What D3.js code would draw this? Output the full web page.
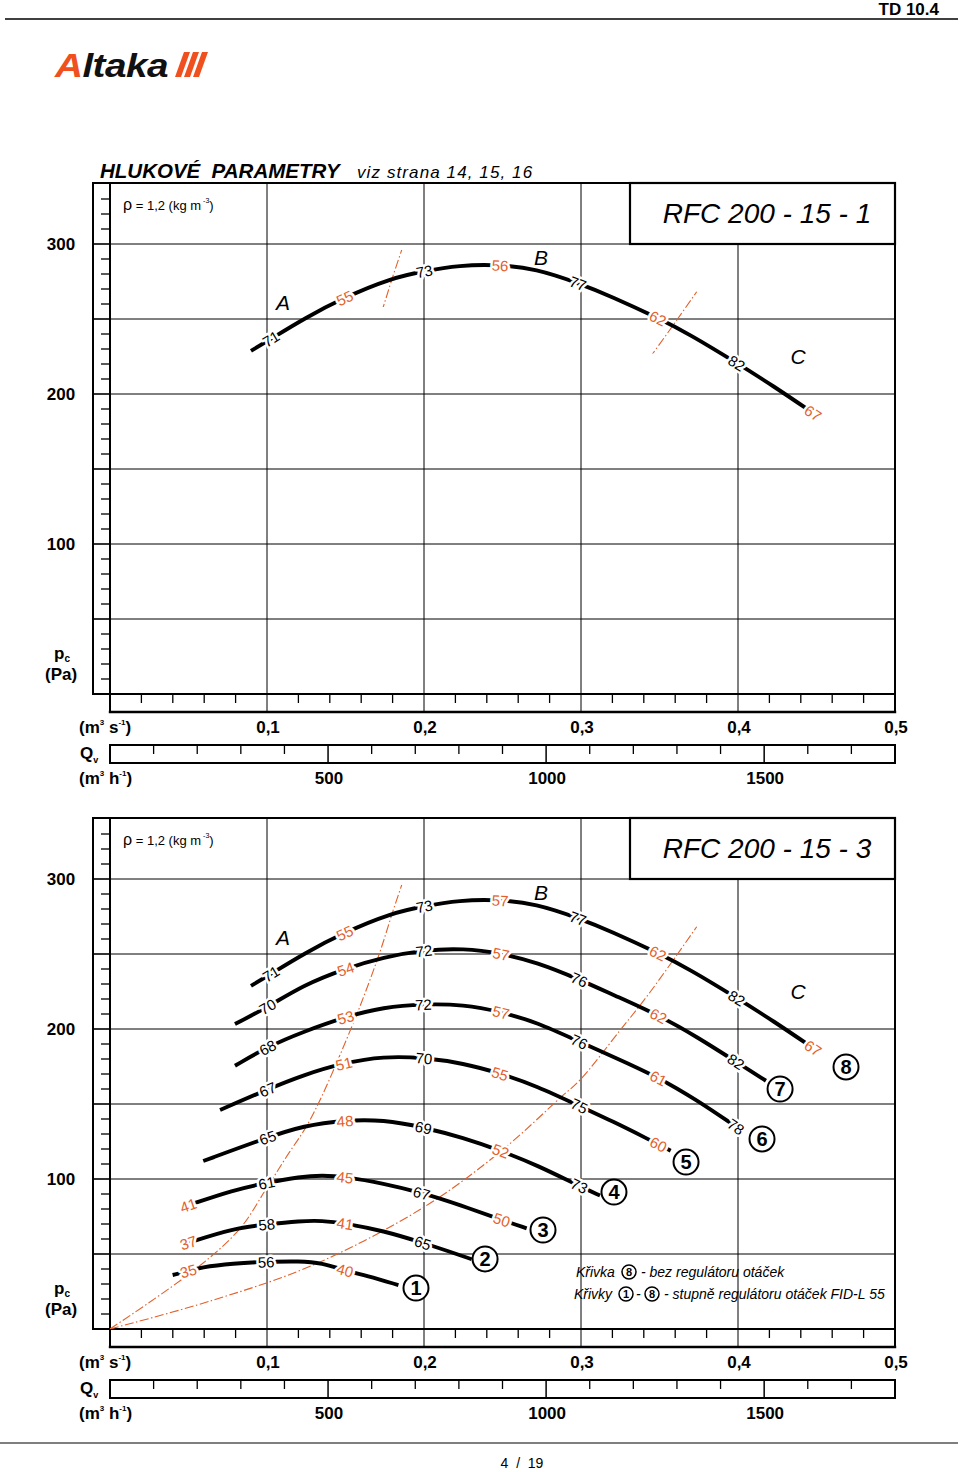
<!DOCTYPE html>
<html><head><meta charset="utf-8">
<script src="https://cdn.jsdelivr.net/npm/d3@7"></script>
<style>
body{margin:0;background:#fff}
svg{display:block;font-family:"Liberation Sans",Arial,sans-serif}
.axl{font-weight:bold;font-size:17px;fill:#000}
</style>
</head><body>
<svg id="c" width="960" height="1472"></svg>
<script>
// ---------------- DATA ----------------
const qTicks = [0.1, 0.2, 0.3, 0.4, 0.5];
const qTickLabels = ["0,1", "0,2", "0,3", "0,4", "0,5"];
const hTicks = [500, 1000, 1500];
const hTickLabels = ["500", "1000", "1500"];
const pTicks = [100, 200, 300];
const pTickLabels = ["100", "200", "300"];

// fan curves: [Qv m3/s, pc Pa]
const curve8 = [[0.0898,228.7],[0.1025,236.7],[0.1239,250.5],[0.1495,264.5],[0.1787,277.1],[0.2002,282],[0.2225,285.8],[0.2469,286.3],[0.2713,283.5],[0.2981,274],[0.3197,264.9],[0.3490,250.7],[0.3688,240],[0.3992,220.7],[0.4223,205.5],[0.4478,187.3]];
const curve7 = [[0.0796,203.3],[0.1004,214.5],[0.1231,229.3],[0.1501,240.4],[0.1741,247.8],[0.2,252.7],[0.2251,253.8],[0.249,250.5],[0.2718,244.5],[0.2989,233.1],[0.3206,222.7],[0.3493,209.3],[0.3737,194.9],[0.3987,178.2],[0.4178,165.5]];
const curve6 = [[0.0796,175.5],[0.1004,188.2],[0.1231,198.2],[0.1501,208.2],[0.1741,214.5],[0.1996,216.7],[0.2251,216.3],[0.249,211.5],[0.2718,204.5],[0.2989,191.5],[0.3206,181.5],[0.3493,167.8],[0.3737,152.7],[0.3987,134.9]];
const curve5 = [[0.0701,146],[0.1004,159.8],[0.1231,169.3],[0.149,177.5],[0.1741,181.8],[0.2,181],[0.2251,177.1],[0.2484,170.5],[0.2718,162],[0.2989,148.7],[0.3206,138.2],[0.3418,127.1],[0.3571,118.9]];
const curve4 = [[0.0594,112],[0.1004,127.8],[0.1231,135.5],[0.1497,139.3],[0.1741,139.5],[0.1996,134.5],[0.2251,127.5],[0.2488,118.9],[0.2718,109.3],[0.2989,95.3],[0.3121,89]];
const curve3 = [[0.0499,82.5],[0.0786,92.7],[0.0998,97.5],[0.121,101.5],[0.135,102.5],[0.1497,101.5],[0.1741,97.1],[0.1985,90.9],[0.2229,82.7],[0.2495,72.7],[0.2654,67.1]];
const curve2 = [[0.0499,57.5],[0.0786,67.1],[0.0998,69.8],[0.121,72],[0.135,72.3],[0.1497,70.5],[0.1741,65.5],[0.1992,57.5],[0.2166,51.5],[0.2304,46.5]];
const curve1 = [[0.0399,36],[0.0499,38.5],[0.0573,41.1],[0.0786,43.8],[0.0994,44.8],[0.121,45.3],[0.135,44],[0.1497,39],[0.1635,35.5],[0.1837,29.3]];

// noise labels on curves: [Qv, text, colour k=black o=orange]
const labels8top = [[0.1025,"71","k"],[0.1495,"55","o"],[0.2002,"73","k"],[0.2485,"56","o"],[0.2981,"77","k"],[0.349,"62","o"],[0.3992,"82","k"],[0.4478,"67","o"]];
const labels8 = [[0.1025,"71","k"],[0.1495,"55","o"],[0.2002,"73","k"],[0.2485,"57","o"],[0.2981,"77","k"],[0.349,"62","o"],[0.3992,"82","k"],[0.4478,"67","o"]];
const labels7 = [[0.1004,"70","k"],[0.1501,"54","o"],[0.2,"72","k"],[0.249,"57","o"],[0.2989,"76","k"],[0.3493,"62","o"],[0.3987,"82","k"]];
const labels6 = [[0.1004,"68","k"],[0.1501,"53","o"],[0.1996,"72","k"],[0.249,"57","o"],[0.2989,"76","k"],[0.3493,"61","o"],[0.3987,"78","k"]];
const labels5 = [[0.1004,"67","k"],[0.149,"51","o"],[0.2,"70","k"],[0.2484,"55","o"],[0.2989,"75","k"],[0.3493,"60","o"]];
const labels4 = [[0.1004,"65","k"],[0.1497,"48","o"],[0.1996,"69","k"],[0.2488,"52","o"],[0.2989,"73","k"]];
const labels3 = [[0.0499,"41","o"],[0.0998,"61","k"],[0.1497,"45","o"],[0.1985,"67","k"],[0.2495,"50","o"]];
const labels2 = [[0.0499,"37","o"],[0.0998,"58","k"],[0.1497,"41","o"],[0.1992,"65","k"]];
const labels1 = [[0.0499,"35","o"],[0.0994,"56","k"],[0.1497,"40","o"]];

// circled curve numbers [n, Qv, pc]
const curveMarks = [[1,0.1949,27.3],[2,0.2389,46.7],[3,0.2758,66],[4,0.3210,91.3],[5,0.3669,111.3],[6,0.4153,126.7],[7,0.4268,160],[8,0.4688,174.7]];

// area boundary lines (dash-dot) [Qv, pc]
const lineAB = [[0,0],[0.0552,40.5],[0.0828,67],[0.0998,94],[0.1125,115],[0.1274,139.3],[0.154,201.5],[0.1709,248.2],[0.1801,278.2],[0.1858,296]];
const lineBC = [[0,0],[0.065,19],[0.1295,42.7],[0.1996,81],[0.2484,118],[0.2877,155],[0.2994,166],[0.3248,199],[0.3418,221.5],[0.3588,246],[0.3737,268.2]];
const topSegAB = [258, 297];
const topSegBC = [227, 269];

// area letters [text, Qv, pc]
const areaLetters = [["A",0.1102,260.7],["B",0.2745,290.7],["C",0.4382,224.7]];

// ---------------- DRAWING ----------------
const ORANGE = "#e3602a";
const svg = d3.select("#c");
const x = d3.scaleLinear().domain([0, 0.5]).range([110, 895]);
const xh = d3.scaleLinear().domain([0, 1800]).range([110, 895]);

// header
svg.append("line").attr("x1",5).attr("x2",958).attr("y1",19).attr("y2",19).attr("stroke","#000").attr("stroke-width",1.5);
svg.append("text").attr("x",939).attr("y",15).attr("text-anchor","end").attr("font-weight","bold").attr("font-size",17).text("TD 10.4");
// logo
const logo = svg.append("g").attr("transform","translate(55,77)");
const lt = logo.append("text").attr("font-size",34).attr("font-weight",900).attr("font-style","italic").attr("letter-spacing",-0.5)
  .attr("transform","scale(1.14,0.98)");
lt.append("tspan").attr("fill","#f0501e").text("A");
lt.append("tspan").attr("fill","#111").text("ltaka");
[0,9,18].forEach(d=>{
  logo.append("path").attr("d",`M${120+d},0 L${126+d},0 L${135+d},-25 L${129+d},-25 Z`).attr("fill","#f0501e");
});
// footer
svg.append("line").attr("x1",0).attr("x2",958).attr("y1",1443).attr("y2",1443).attr("stroke","#000").attr("stroke-width",1.2);
svg.append("text").attr("x",522).attr("y",1468).attr("text-anchor","middle").attr("font-size",14).attr("xml:space","preserve").text("4  /  19");

// title
const tt = svg.append("text").attr("x",100).attr("y",178).attr("font-style","italic");
tt.append("tspan").attr("font-weight","bold").attr("font-size",20.5).text("HLUKOVÉ\u00a0 PARAMETRY");
tt.append("tspan").attr("x",357).attr("font-size",17).attr("letter-spacing",1.1).text("viz strana 14, 15, 16");

function unitText(g, xp, yp, u) {
  const t = g.append("text").attr("x",xp).attr("y",yp).attr("class","axl");
  t.append("tspan").text("(m");
  t.append("tspan").attr("font-size",8).attr("dy",-8).text("3");
  t.append("tspan").attr("dy",8).text(" "+u);
  t.append("tspan").attr("font-size",8).attr("dy",-8).text("-1");
  t.append("tspan").attr("dy",8).text(")");
}

function drawCurve(g, y, data, labels) {
  const line = d3.line().x(d=>x(d[0])).y(d=>y(d[1])).curve(d3.curveBasis);
  const path = g.append("path").attr("d",line(data)).attr("fill","none").attr("stroke","#000").attr("stroke-width",3.9);
  const node = path.node();
  const L = node.getTotalLength();
  labels.forEach(([q,t,c])=>{
    const tx = x(q);
    let lo=0, hi=L;
    for (let i=0;i<40;i++){ const m=(lo+hi)/2; if (node.getPointAtLength(m).x < tx) lo=m; else hi=m; }
    const P = node.getPointAtLength(lo);
    const a = node.getPointAtLength(Math.max(0,lo-4)), b = node.getPointAtLength(Math.min(L,lo+4));
    const ang = Math.atan2(b.y-a.y, b.x-a.x)*180/Math.PI;
    g.append("text").attr("transform",`translate(${P.x},${P.y}) rotate(${ang})`)
      .attr("text-anchor","middle").attr("dominant-baseline","central")
      .attr("font-size",15).attr("fill", c==="o"?ORANGE:"#000")
      .attr("stroke","#fff").attr("stroke-width",5).attr("paint-order","stroke").attr("stroke-linejoin","round")
      .text(t);
  });
}

let clipId = 0;
function dashLine(g, y, data, clipRange) {
  const line = d3.line().x(d=>x(d[0])).y(d=>y(d[1])).curve(d3.curveCatmullRom.alpha(0.5));
  const p = g.append("path").attr("d",line(data)).attr("fill","none").attr("stroke",ORANGE)
    .attr("stroke-width",1.1).attr("stroke-dasharray","9,2.5,1.5,2.5");
  if (clipRange) {
    const id = "clp"+(clipId++);
    g.append("clipPath").attr("id",id).append("rect")
      .attr("x",110).attr("width",785).attr("y",y(clipRange[1])).attr("height",y(clipRange[0])-y(clipRange[1]));
    p.attr("clip-path",`url(#${id})`);
  }
}

function chart(y0, title, full) {
  const y = d3.scaleLinear().domain([0,340]).range([y0+511, y0+1]);
  const yb = y(0);
  const g = svg.append("g");
  const k = "#000";
  // horizontal gridlines
  d3.range(50, 301, 50).forEach(v=>{
    g.append("line").attr("x1",x(0)).attr("x2",x(0.5)).attr("y1",y(v)).attr("y2",y(v)).attr("stroke",k).attr("stroke-width",1);
  });
  // vertical gridlines
  [0.1,0.2,0.3,0.4].forEach(v=>{
    g.append("line").attr("x1",x(v)).attr("x2",x(v)).attr("y1",y0).attr("y2",yb+18).attr("stroke",k).attr("stroke-width",1);
  });
  // y band
  d3.range(10, 340, 10).forEach(v=>{
    const major = v%50===0;
    g.append("line").attr("x1",major?93:101).attr("x2",110).attr("y1",y(v)).attr("y2",y(v)).attr("stroke",k).attr("stroke-width",major?1.6:1.3);
  });
  // x band (m3/s)
  d3.range(1, 25).map(i=>i*0.02).forEach(v=>{
    const major = Math.abs(v*10 - Math.round(v*10)) < 1e-6;
    if (!major) g.append("line").attr("x1",x(v)).attr("x2",x(v)).attr("y1",yb).attr("y2",yb+9).attr("stroke",k).attr("stroke-width",1.3);
  });
  // Qv band (m3/h)
  const qb = yb+51;
  g.append("rect").attr("x",x(0)).attr("y",qb).attr("width",x(0.5)-x(0)).attr("height",18).attr("fill","none").attr("stroke",k).attr("stroke-width",2);
  d3.range(100, 1800, 100).forEach(v=>{
    const major = v%500===0;
    g.append("line").attr("x1",xh(v)).attr("x2",xh(v)).attr("y1",qb).attr("y2",major?qb+18:qb+9).attr("stroke",k).attr("stroke-width",major?1.5:1.3);
  });
  // frame
  const fl = (x1,y1,x2,y2,w)=>g.append("line").attr("x1",x1).attr("y1",y1).attr("x2",x2).attr("y2",y2).attr("stroke",k).attr("stroke-width",w).attr("stroke-linecap","square");
  fl(93,y0,895,y0,2);
  fl(93,y0,93,yb,2);
  fl(110,y0,110,yb+18,2);
  fl(895,y0,895,yb+18,2);
  fl(93,yb,895,yb,2);
  fl(110,yb+18,895,yb+18,2.4);
  // tick labels
  pTicks.forEach((v,i)=>{
    g.append("text").attr("class","axl").attr("x",61).attr("y",y(v)+6).attr("text-anchor","middle").text(pTickLabels[i]);
  });
  qTicks.forEach((v,i)=>{
    g.append("text").attr("class","axl").attr("x",x(v)+1).attr("y",yb+39).attr("text-anchor","middle").text(qTickLabels[i]);
  });
  hTicks.forEach((v,i)=>{
    g.append("text").attr("class","axl").attr("x",xh(v)+1).attr("y",yb+90).attr("text-anchor","middle").text(hTickLabels[i]);
  });
  // axis titles
  const pc = g.append("text").attr("class","axl").attr("x",54).attr("y",yb-35).attr("font-size",18);
  pc.append("tspan").text("p");
  pc.append("tspan").attr("font-size",10).attr("dy",3).text("c");
  g.append("text").attr("class","axl").attr("x",45).attr("y",yb-14).attr("font-size",17).text("(Pa)");
  unitText(g, 79, yb+39, "s");
  const qv = g.append("text").attr("class","axl").attr("x",80).attr("y",yb+65).attr("font-size",21);
  qv.append("tspan").text("Q");
  qv.append("tspan").attr("font-size",9).attr("dy",4).text("v");
  unitText(g, 79, yb+90, "h");

  // rho
  const rt = g.append("text").attr("x",123).attr("y",y0+27).attr("font-size",13);
  rt.append("tspan").attr("font-size",16).text("ρ");
  rt.append("tspan").text(" = 1,2 (kg m");
  rt.append("tspan").attr("font-size",7).attr("dy",-7).text(" -3");
  rt.append("tspan").attr("dy",7).text(")");

  // title box
  g.append("rect").attr("x",630).attr("y",y0).attr("width",265).attr("height",y(300)-y0).attr("fill","#fff").attr("stroke",k).attr("stroke-width",2.2);
  g.append("text").attr("x",767).attr("y",y0+40).attr("text-anchor","middle").attr("font-style","italic").attr("font-size",28).text(title);

  // area letters
  areaLetters.forEach(([t,q,p])=>{
    g.append("text").attr("x",x(q)).attr("y",y(p)).attr("text-anchor","middle").attr("dominant-baseline","central")
      .attr("font-style","italic").attr("font-size",21).text(t);
  });

  if (!full) {
    dashLine(g, y, lineAB, topSegAB);
    dashLine(g, y, lineBC, topSegBC);
    drawCurve(g, y, curve8, labels8top);
  } else {
    dashLine(g, y, lineAB, [0, 297]);
    dashLine(g, y, lineBC, [0, 269]);
    const cs = [[curve1,labels1],[curve2,labels2],[curve3,labels3],[curve4,labels4],[curve5,labels5],[curve6,labels6],[curve7,labels7],[curve8,labels8]];
    cs.forEach(([c,l])=>drawCurve(g, y, c, l));
    curveMarks.forEach(([n,q,p])=>{
      g.append("circle").attr("cx",x(q)).attr("cy",y(p)).attr("r",12.5).attr("fill","#fff").attr("stroke",k).attr("stroke-width",2);
      g.append("text").attr("x",x(q)).attr("y",y(p)+7).attr("text-anchor","middle").attr("font-weight","bold").attr("font-size",20).text(n);
    });
    // legend
    const smallMark = (cx, cy, n)=>{
      g.append("circle").attr("cx",cx).attr("cy",cy).attr("r",7).attr("fill","#fff").attr("stroke",k).attr("stroke-width",1.5);
      g.append("text").attr("x",cx).attr("y",cy+4).attr("text-anchor","middle").attr("font-weight","bold").attr("font-size",11).text(n);
    };
    const l1 = yb-52, l2 = yb-30;
    g.append("text").attr("x",576).attr("y",l1).attr("font-style","italic").attr("font-size",14).text("Křivka");
    smallMark(629, l1-5, 8);
    g.append("text").attr("x",641).attr("y",l1).attr("font-style","italic").attr("font-size",14).text("- bez regulátoru otáček");
    g.append("text").attr("x",574).attr("y",l2).attr("font-style","italic").attr("font-size",14).text("Křivky");
    smallMark(626, l2-5, 1);
    g.append("text").attr("x",636).attr("y",l2).attr("font-style","italic").attr("font-size",14).text("-");
    smallMark(652, l2-5, 8);
    g.append("text").attr("x",664).attr("y",l2).attr("font-style","italic").attr("font-size",14).text("- stupně regulátoru otáček FID-L 55");
  }
}

chart(183, "RFC 200 - 15 - 1", false);
chart(818, "RFC 200 - 15 - 3", true);
</script>
</body></html>
